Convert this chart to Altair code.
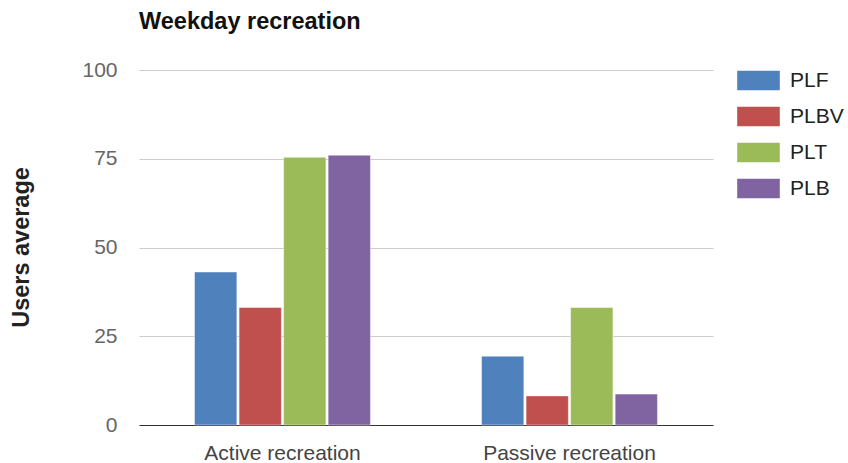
import altair as alt
import pandas as pd

# Average users per weekday, by recreation type and site
categories = ["Active recreation", "Passive recreation"]
series = ["PLF", "PLBV", "PLT", "PLB"]
colors = ["#4F81BD", "#C0504D", "#9BBB59", "#8064A2"]
active_values = [43.1, 33.1, 75.4, 76.0]
passive_values = [19.4, 8.2, 33.1, 8.7]
y_ticks = [0, 25, 50, 75, 100]

rows = []
for s, a, p in zip(series, active_values, passive_values):
    rows.append({"category": categories[0], "site": s, "users": a})
    rows.append({"category": categories[1], "site": s, "users": p})
df = pd.DataFrame(rows)

FONT = "Liberation Sans"
# wide rectangle used as legend swatch
SWATCH = "M-2.1,-1H2.1V1H-2.1Z"

chart = (
    alt.Chart(df)
    .mark_bar(stroke="white", strokeOpacity=0.45, strokeWidth=1)
    .encode(
        x=alt.X(
            "category:N",
            sort=categories,
            scale=alt.Scale(paddingInner=0.387, paddingOuter=0.1935),
            axis=alt.Axis(
                title=None,
                labelAngle=0,
                labelFontSize=21,
                labelFont=FONT,
                labelColor="#444444",
                labelBaseline="alphabetic",
                labelPadding=34,
                ticks=False,
                tickSize=0,
                domain=True,
                domainColor="#333333",
                domainWidth=1.2,
                grid=False,
            ),
        ),
        xOffset=alt.XOffset(
            "site:N", sort=series, scale=alt.Scale(paddingInner=0.05, paddingOuter=0)
        ),
        y=alt.Y(
            "users:Q",
            scale=alt.Scale(domain=[0, 100], nice=False),
            axis=alt.Axis(
                title="Users average",
                titleFont=FONT,
                titleFontSize=23.5,
                titleFontWeight="bold",
                titleColor="#222222",
                titleBaseline="alphabetic",
                titleX=-111,
                titleY=177,
                titleAngle=-90,
                values=y_ticks,
                labelFontSize=21,
                labelFont=FONT,
                labelColor="#666666",
                labelPadding=22,
                ticks=False,
                tickSize=0,
                domain=False,
                grid=True,
                gridColor="#cccccc",
                gridWidth=1.2,
            ),
        ),
        color=alt.Color(
            "site:N",
            sort=series,
            scale=alt.Scale(domain=series, range=colors),
            legend=alt.Legend(
                title=None,
                orient="none",
                legendX=608,
                legendY=-1,
                symbolType=SWATCH,
                symbolSize=441,
                symbolOpacity=1,
                labelFont=FONT,
                labelFontSize=21,
                labelColor="#222222",
                labelOffset=20,
                rowPadding=9,
                padding=0,
            ),
        ),
    )
    .properties(
        width=574,
        height=355,
        title=alt.TitleParams(
            "Weekday recreation",
            anchor="start",
            frame="group",
            font=FONT,
            fontSize=23.5,
            fontWeight="bold",
            color="#111111",
            baseline="alphabetic",
            offset=7,
        ),
        autosize=alt.AutoSizeParams(type="none"),
        padding={"left": 139, "top": 70, "right": 135, "bottom": 38},
    )
    .configure_view(stroke=None)
)

chart.save("out.html", embed_options={"renderer": "svg", "actions": False})
